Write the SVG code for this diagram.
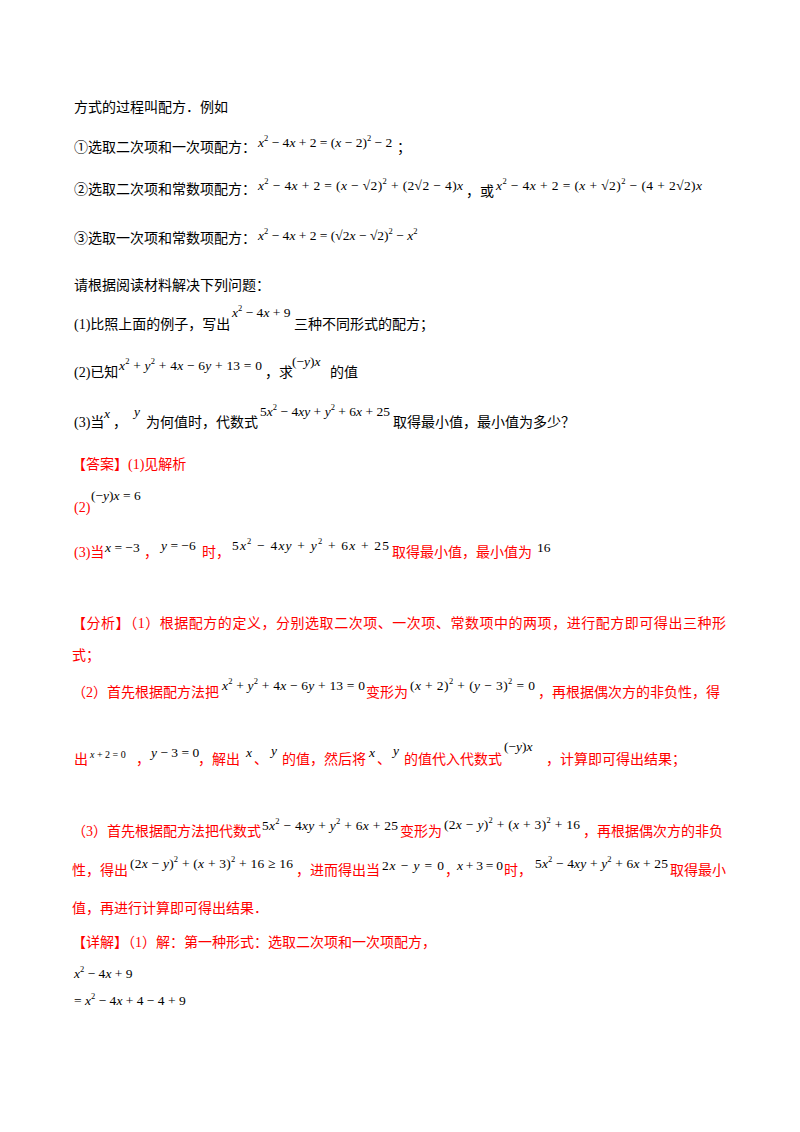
<svg xmlns="http://www.w3.org/2000/svg" width="800" height="1132" viewBox="0 0 800 1132">
<style>
text{font-family:"Liberation Serif","Noto Sans CJK SC",serif;font-size:14px;fill:#000}
.r{fill:#f00}
.m{font-family:"Liberation Serif",serif;font-size:13.5px}
.i{font-style:italic}
.s{font-size:8.5px}
</style>
<rect width="800" height="1132" fill="#fff"/>
<text x="74" y="112">方式的过程叫配方．例如</text>
<text x="74" y="152">①选取二次项和一次项配方：</text>
<text class="m" x="258" y="147"><tspan class="i">x</tspan><tspan class="s" dy="-6">2</tspan><tspan dy="6"> − 4</tspan><tspan class="i">x</tspan> + 2 = (<tspan class="i">x</tspan> − 2)<tspan class="s" dy="-6">2</tspan><tspan dy="6"> − 2</tspan></text>
<text x="397" y="152">；</text>
<text x="74" y="194">②选取二次项和常数项配方：</text>
<text class="m" x="258" y="190" textLength="205"><tspan class="i">x</tspan><tspan class="s" dy="-6">2</tspan><tspan dy="6"> − 4</tspan><tspan class="i">x</tspan> + 2 = (<tspan class="i">x</tspan> − √2)<tspan class="s" dy="-6">2</tspan><tspan dy="6"> + (2√2 − 4)</tspan><tspan class="i">x</tspan></text>
<text x="466" y="196">，或</text>
<text class="m" x="496" y="190" textLength="206"><tspan class="i">x</tspan><tspan class="s" dy="-6">2</tspan><tspan dy="6"> − 4</tspan><tspan class="i">x</tspan> + 2 = (<tspan class="i">x</tspan> + √2)<tspan class="s" dy="-6">2</tspan><tspan dy="6"> − (4 + 2√2)</tspan><tspan class="i">x</tspan></text>
<text x="74" y="243">③选取一次项和常数项配方：</text>
<text class="m" x="258" y="240"><tspan class="i">x</tspan><tspan class="s" dy="-6">2</tspan><tspan dy="6"> − 4</tspan><tspan class="i">x</tspan> + 2 = (√2<tspan class="i">x</tspan> − √2)<tspan class="s" dy="-6">2</tspan><tspan dy="6"> − </tspan><tspan class="i">x</tspan><tspan class="s" dy="-6">2</tspan></text>
<text x="74" y="290">请根据阅读材料解决下列问题：</text>
<text x="74" y="329">(1)比照上面的例子，写出</text>
<text class="m" x="232" y="317"><tspan class="i">x</tspan><tspan class="s" dy="-6">2</tspan><tspan dy="6"> − 4</tspan><tspan class="i">x</tspan> + 9</text>
<text x="294" y="329">三种不同形式的配方；</text>
<text x="74" y="377">(2)已知</text>
<text class="m" x="119" y="370" textLength="143"><tspan class="i">x</tspan><tspan class="s" dy="-6">2</tspan><tspan dy="6"> + </tspan><tspan class="i">y</tspan><tspan class="s" dy="-6">2</tspan><tspan dy="6"> + 4</tspan><tspan class="i">x</tspan> − 6<tspan class="i">y</tspan> + 13 = 0</text>
<text x="265" y="377">，求</text>
<text class="m" x="292" y="366">(−<tspan class="i">y</tspan>)<tspan class="i">x</tspan></text>
<text x="330" y="377">的值</text>
<text x="74" y="427">(3)当</text>
<text class="m i" x="104" y="418">x</text>
<text x="113" y="427">，</text>
<text class="m i" x="134" y="416">y</text>
<text x="146" y="427">为何值时，代数式</text>
<text class="m" x="260" y="416" textLength="130">5<tspan class="i">x</tspan><tspan class="s" dy="-6">2</tspan><tspan dy="6"> − 4</tspan><tspan class="i">xy</tspan> + <tspan class="i">y</tspan><tspan class="s" dy="-6">2</tspan><tspan dy="6"> + 6</tspan><tspan class="i">x</tspan> + 25</text>
<text x="393" y="427">取得最小值，最小值为多少？</text>
<g class="r">
<text class="r" x="72" y="469">【答案】(1)见解析</text>
<text class="r" x="74" y="512">(2)</text>
<text class="m" x="91" y="500">(−<tspan class="i">y</tspan>)<tspan class="i">x</tspan> = 6</text>
<text class="r" x="74" y="557">(3)当</text>
<text class="m" x="105" y="552"><tspan class="i">x</tspan> = −3</text>
<text class="r" x="144" y="557">，</text>
<text class="m" x="161" y="550"><tspan class="i">y</tspan> = −6</text>
<text class="r" x="202" y="557">时，</text>
<text class="m" x="232" y="550" textLength="157">5<tspan class="i">x</tspan><tspan class="s" dy="-6">2</tspan><tspan dy="6"> − 4</tspan><tspan class="i">xy</tspan> + <tspan class="i">y</tspan><tspan class="s" dy="-6">2</tspan><tspan dy="6"> + 6</tspan><tspan class="i">x</tspan> + 25</text>
<text class="r" x="392" y="557">取得最小值，最小值为</text>
<text class="m" x="537" y="552">16</text>
<text class="r" x="72" y="628" textLength="654">【分析】（1）根据配方的定义，分别选取二次项、一次项、常数项中的两项，进行配方即可得出三种形</text>
<text class="r" x="72" y="660">式；</text>
<text class="r" x="72" y="697">（2）首先根据配方法把</text>
<text class="m" x="222" y="690" textLength="143"><tspan class="i">x</tspan><tspan class="s" dy="-6">2</tspan><tspan dy="6"> + </tspan><tspan class="i">y</tspan><tspan class="s" dy="-6">2</tspan><tspan dy="6"> + 4</tspan><tspan class="i">x</tspan> − 6<tspan class="i">y</tspan> + 13 = 0</text>
<text class="r" x="366" y="697">变形为</text>
<text class="m" x="410" y="690" textLength="125">(<tspan class="i">x</tspan> + 2)<tspan class="s" dy="-6">2</tspan><tspan dy="6"> + (</tspan><tspan class="i">y</tspan> − 3)<tspan class="s" dy="-6">2</tspan><tspan dy="6"> = 0</tspan></text>
<text class="r" x="538" y="697">，再根据偶次方的非负性，得</text>
<text class="r" x="74" y="764">出</text>
<text class="m" x="90" y="758" style="font-size:10px"><tspan class="i">x</tspan> + 2 = 0</text>
<text class="r" x="136" y="764">，</text>
<text class="m" x="151" y="757"><tspan class="i">y</tspan> − 3 = 0</text>
<text class="r" x="198" y="764">，解出</text>
<text class="m i" x="246" y="757">x</text>
<text class="r" x="254" y="764">、</text>
<text class="m i" x="271" y="755">y</text>
<text class="r" x="282" y="764">的值，然后将</text>
<text class="m i" x="369" y="757">x</text>
<text class="r" x="377" y="764">、</text>
<text class="m i" x="393" y="755">y</text>
<text class="r" x="404" y="764">的值代入代数式</text>
<text class="m" x="504" y="751">(−<tspan class="i">y</tspan>)<tspan class="i">x</tspan></text>
<text class="r" x="546" y="764">，计算即可得出结果；</text>
<text class="r" x="72" y="836">（3）首先根据配方法把代数式</text>
<text class="m" x="262" y="830" textLength="136">5<tspan class="i">x</tspan><tspan class="s" dy="-6">2</tspan><tspan dy="6"> − 4</tspan><tspan class="i">xy</tspan> + <tspan class="i">y</tspan><tspan class="s" dy="-6">2</tspan><tspan dy="6"> + 6</tspan><tspan class="i">x</tspan> + 25</text>
<text class="r" x="400" y="836">变形为</text>
<text class="m" x="444" y="829" textLength="136">(2<tspan class="i">x</tspan> − <tspan class="i">y</tspan>)<tspan class="s" dy="-6">2</tspan><tspan dy="6"> + (</tspan><tspan class="i">x</tspan> + 3)<tspan class="s" dy="-6">2</tspan><tspan dy="6"> + 16</tspan></text>
<text class="r" x="583" y="836">，再根据偶次方的非负</text>
<text class="r" x="72" y="875">性，得出</text>
<text class="m" x="130" y="868" textLength="163">(2<tspan class="i">x</tspan> − <tspan class="i">y</tspan>)<tspan class="s" dy="-6">2</tspan><tspan dy="6"> + (</tspan><tspan class="i">x</tspan> + 3)<tspan class="s" dy="-6">2</tspan><tspan dy="6"> + 16 ≥ 16</tspan></text>
<text class="r" x="296" y="875">，进而得出当</text>
<text class="m" x="382" y="870" textLength="62">2<tspan class="i">x</tspan> − <tspan class="i">y</tspan> = 0</text>
<text class="r" x="445" y="875">，</text>
<text class="m" x="457" y="870" textLength="46"><tspan class="i">x</tspan> + 3 = 0</text>
<text class="r" x="504" y="875">时，</text>
<text class="m" x="535" y="868" textLength="133">5<tspan class="i">x</tspan><tspan class="s" dy="-6">2</tspan><tspan dy="6"> − 4</tspan><tspan class="i">xy</tspan> + <tspan class="i">y</tspan><tspan class="s" dy="-6">2</tspan><tspan dy="6"> + 6</tspan><tspan class="i">x</tspan> + 25</text>
<text class="r" x="670" y="875">取得最小</text>
<text class="r" x="72" y="913">值，再进行计算即可得出结果．</text>
<text class="r" x="72" y="947">【详解】（1）解：第一种形式：选取二次项和一次项配方，</text>
</g>
<text class="m" x="74" y="978"><tspan class="i">x</tspan><tspan class="s" dy="-6">2</tspan><tspan dy="6"> − 4</tspan><tspan class="i">x</tspan> + 9</text>
<text class="m" x="74" y="1005">= <tspan class="i">x</tspan><tspan class="s" dy="-6">2</tspan><tspan dy="6"> − 4</tspan><tspan class="i">x</tspan> + 4 − 4 + 9</text>
</svg>
